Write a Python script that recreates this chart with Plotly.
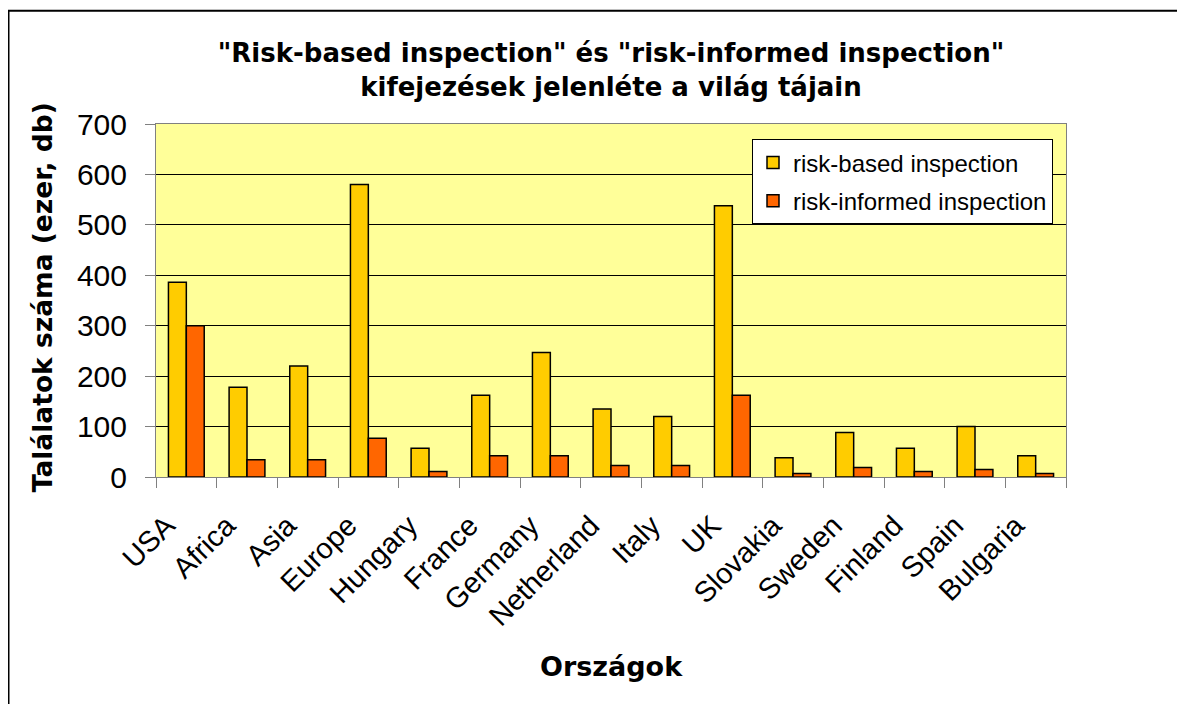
import plotly.graph_objects as go

categories = ["USA", "Africa", "Asia", "Europe", "Hungary", "France", "Germany",
              "Netherland", "Italy", "UK", "Slovakia", "Sweden", "Finland", "Spain", "Bulgaria"]
risk_based = [386, 178, 220, 580, 57, 162, 247, 135, 120, 538, 38, 88, 57, 100, 42]
risk_informed = [300, 34, 34, 77, 11, 42, 42, 23, 23, 162, 7, 19, 11, 15, 7]
y_ticks = [0, 100, 200, 300, 400, 500, 600, 700]

# page is offset by the 8px body margin, so figure coords = page coords - 8
OFF = 8
W, H = 1185 - OFF, 704 - OFF
L, R, T, B = 156 - OFF, 1066 - OFF, 123.5 - OFF, 477 - OFF
pw, ph = R - L, B - T


def px(x):  # page x -> paper
    return (x - OFF - L) / pw


def py(y):  # page y -> paper
    return (B - (y - OFF)) / ph


ARIAL = "Arial, 'Liberation Sans', sans-serif"
WIDE = "'DejaVu Sans', Arial, sans-serif"

fig = go.Figure()
fig.add_trace(go.Bar(x=categories, y=risk_based, name="risk-based inspection",
                     marker=dict(color="#FFCC00", line=dict(color="#000000", width=1.5)),
                     legendgroup="a"))
fig.add_trace(go.Bar(x=categories, y=risk_informed, name="risk-informed inspection",
                     marker=dict(color="#FF6600", line=dict(color="#000000", width=1.5)),
                     legendgroup="b"))

fig.update_layout(
    width=W, height=H,
    margin=dict(l=L, r=W - R, t=T, b=H - B, autoexpand=False),
    paper_bgcolor="white",
    plot_bgcolor="#FFFF99",
    barmode="group",
    bargap=0.41,
    bargroupgap=0,
    font=dict(family=ARIAL, color="black", size=30),
    title=dict(
        text='"Risk-based inspection" és "risk-informed inspection"<br>kifejezések jelenléte a világ tájain',
        x=0.5, xref="paper", xanchor="center",
        y=1 - (62 - OFF) / H, yref="container", yanchor="middle",
        font=dict(family=WIDE, size=26, color="black", weight="bold"),
    ),
    legend=dict(
        x=px(752), y=py(139), xanchor="left", yanchor="top",
        bgcolor="white", bordercolor="#000000", borderwidth=1,
        font=dict(family=ARIAL, size=24, color="black"),
        traceorder="grouped", tracegroupgap=4,
    ),
    showlegend=True,
)

fig.update_xaxes(
    type="category",
    tickangle=-45,
    ticks="outside", tickson="boundaries", ticklen=10, tickcolor="#808080",
    showline=True, linecolor="#808080", linewidth=1, mirror=True,
    showgrid=False,
    tickfont=dict(family=ARIAL, size=29, color="black"),
    ticklabelshift=-20,
    ticklabelstandoff=19,
)
fig.update_yaxes(
    range=[0, 700], tickvals=y_ticks,
    ticks="outside", ticklen=10, tickcolor="#808080",
    showline=True, linecolor="#808080", linewidth=1, mirror=True,
    showgrid=True, gridcolor="#000000", gridwidth=1,
    zeroline=False,
    tickfont=dict(family=ARIAL, size=30, color="black"),
    ticklabelstandoff=12,
)

# axis titles
fig.add_annotation(text="Találatok száma (ezer, db)", textangle=-90,
                   xref="paper", yref="paper", x=px(42), y=py(297),
                   xanchor="center", yanchor="middle", showarrow=False,
                   font=dict(family=WIDE, size=26.5, color="black", weight="bold"))
fig.add_annotation(text="Országok",
                   xref="paper", yref="paper", x=px(611), y=py(667),
                   xanchor="center", yanchor="middle", showarrow=False,
                   font=dict(family=WIDE, size=27, color="black", weight="bold"))

# outer chart-area frame (top and left edges visible)
fig.add_shape(type="rect", xref="paper", yref="paper",
              x0=px(8.5), x1=px(1300), y0=py(800), y1=py(10),
              line=dict(color="black", width=2), fillcolor="rgba(0,0,0,0)", layer="below")

fig.write_html("out.html")
